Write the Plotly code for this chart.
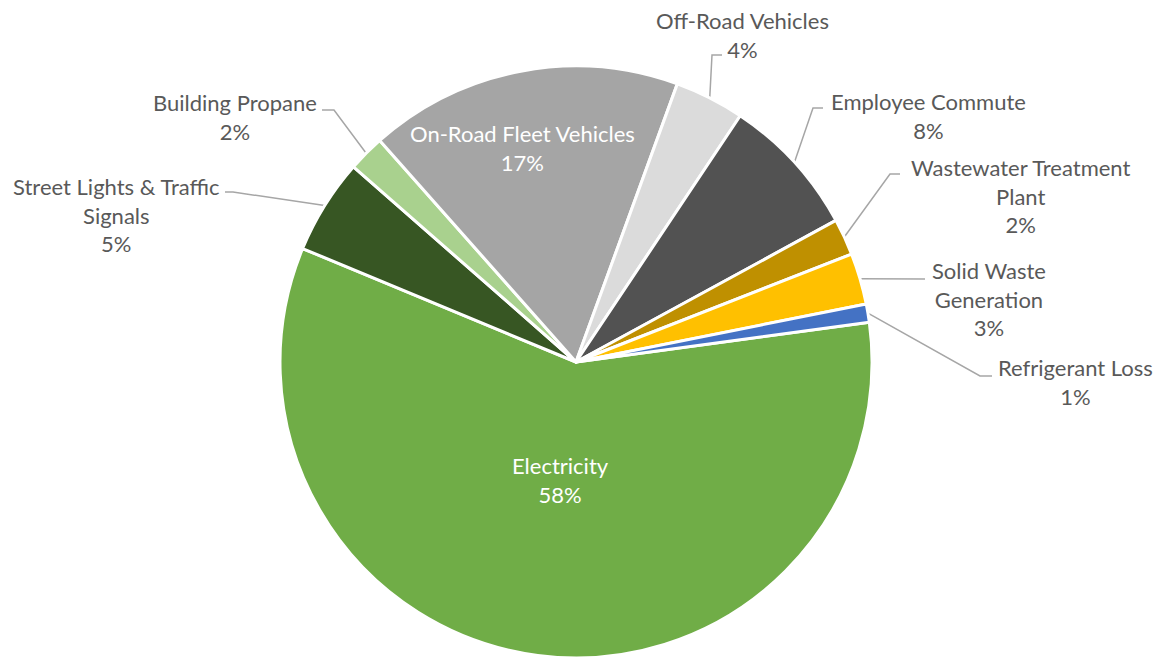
import math
import plotly.graph_objects as go

# ---- data ----
categories = ["Electricity", "Street Lights & Traffic Signals", "Building Propane",
              "On-Road Fleet Vehicles", "Off-Road Vehicles", "Employee Commute",
              "Wastewater Treatment Plant", "Solid Waste Generation", "Refrigerant Loss"]
values = [58.4, 5.2, 2.0, 17.1, 3.8, 7.7, 2.0, 2.8, 1.0]
label_lines = [["Electricity"], ["Street Lights & Traffic", "Signals"], ["Building Propane"],
               ["On-Road Fleet Vehicles"], ["Off-Road Vehicles"], ["Employee Commute"],
               ["Wastewater Treatment", "Plant"], ["Solid Waste", "Generation"], ["Refrigerant Loss"]]
colors = ["#70AD47", "#375623", "#A9D18E", "#A5A5A5", "#DBDBDB", "#525252",
          "#BF9000", "#FFC000", "#4472C4"]

# ---- layout (page pixel space) ----
W, H = 1161, 660
OFF = 8  # default page body margin
CX, CY, R = 576, 362, 296
ROTATION = 82.3
FONT = "Lato"
FS = 22
# label block centres (x, y) and leader-line elbow/end points (None = inside label)
label_pos = [(560, 480), (116, 215), (235, 117), (522, 148), (742, 35),
             (928, 116), (1020, 196), (989, 299), (1075, 382)]
leader_pts = [None, [(233, 192), (225, 192)], [(334, 110), (322, 110)], None,
              [(712, 55), (722, 55)], [(813, 108), (823, 108)], [(890, 174), (900, 174)],
              [(925, 279)], [(980, 376), (992, 376)]]

total = sum(values)
fig = go.Figure()
fig.add_trace(go.Pie(
    labels=categories, values=values, sort=False, direction="clockwise",
    rotation=ROTATION, textinfo="none", hoverinfo="label+percent",
    marker=dict(colors=colors, line=dict(color="white", width=3)),
    domain=dict(x=[(CX - OFF - R) / W, (CX - OFF + R) / W],
                y=[(H - (CY - OFF) - R) / H, (H - (CY - OFF) + R) / H]),
    showlegend=False,
))

ang = ROTATION
for i, v in enumerate(values):
    span = v / total * 360
    mid = math.radians(ang + span / 2)
    ang += span
    pct = f"{round(v / total * 100)}%"
    inside = leader_pts[i] is None
    txt = "<br>".join(label_lines[i] + [pct])
    lx, ly = label_pos[i]
    fig.add_annotation(x=lx, y=ly, xref="x", yref="y", text=txt, showarrow=False,
                       xanchor="center", yanchor="middle", align="center",
                       font=dict(family=FONT, size=FS, color="white" if inside else "#595959"))
    if not inside:
        sx = CX + R * math.sin(mid)
        sy = CY - R * math.cos(mid)
        pts = [(sx, sy)] + leader_pts[i]
        fig.add_trace(go.Scatter(x=[p[0] for p in pts], y=[p[1] for p in pts], mode="lines",
                                 line=dict(color="#A6A6A6", width=1.5), hoverinfo="skip",
                                 showlegend=False))

fig.update_layout(
    width=W, height=H, margin=dict(l=0, r=0, t=0, b=0),
    paper_bgcolor="white", plot_bgcolor="rgba(0,0,0,0)",
    xaxis=dict(range=[OFF, W + OFF], visible=False, domain=[0, 1], fixedrange=True),
    yaxis=dict(range=[H + OFF, OFF], visible=False, domain=[0, 1], fixedrange=True),
    font=dict(family=FONT),
)
fig.write_html("out.html")
